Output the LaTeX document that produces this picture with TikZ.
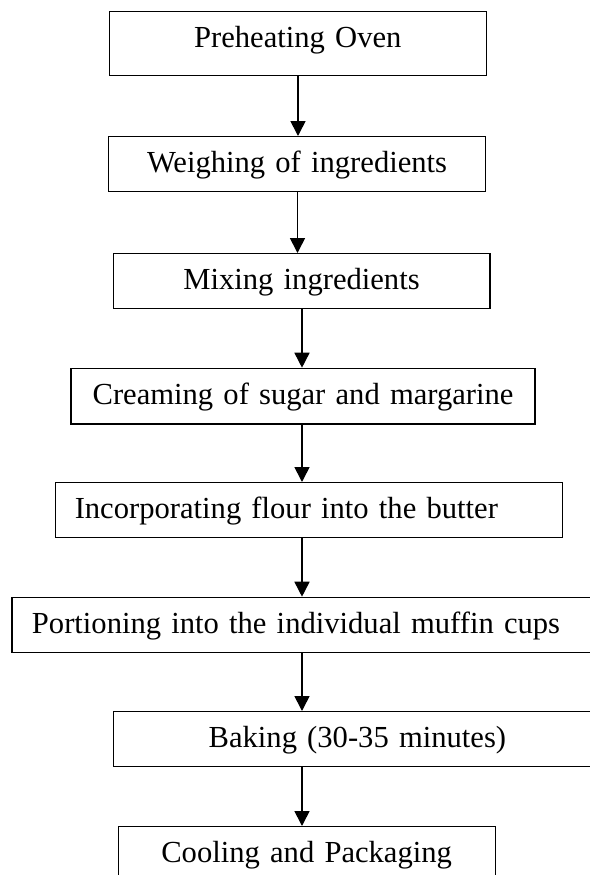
\documentclass[tikz,border=0pt]{standalone}
\usepackage{fontspec}
\setmainfont{Liberation Serif}
\usetikzlibrary{arrows.meta}
\begin{document}
\begin{tikzpicture}[x=0.5pt,y=-0.5pt,
  stepbox/.style={draw, line width=0.65pt, inner xsep=0pt, inner ysep=0pt,
    anchor=north west, font=\fontsize{15.3pt}{18pt}\selectfont,
    text height=18pt, text depth=9.5pt},
  arr/.style={-{Triangle[length=7.5pt,width=7.5pt]}, line width=0.8pt}]
\useasboundingbox (0,0) rectangle (590,875);
\clip (0,0) rectangle (590,875);
\node[stepbox, text width=188.35pt, align=center, text height=17.85pt, text depth=14.15pt] (b1) at (108.8,11) {Preheating Oven};
\node[stepbox, text width=188.4pt, align=center] (b2) at (108,136) {Weighing of ingredients};
\node[stepbox, text width=188.4pt, align=center] (b3) at (112.5,253) {Mixing ingredients};
\node[stepbox, text width=232pt, align=center, text depth=9.8pt] (b4) at (70.4,367.7) {Creaming of sugar and margarine};
\node[stepbox, text width=253.45pt, align=left] (b5) at (54.6,482) {\hspace*{9.75pt}Incorporating flour into the butter};
\node[stepbox, text width=294.35pt, align=left] (b6) at (11.3,596.7) {\hspace*{10pt}Portioning into the individual muffin cups};
\node[stepbox, text width=243.75pt, align=left] (b7) at (112.5,711) {\hspace*{47.75pt}Baking (30-35 minutes)};
\node[stepbox, text width=188.5pt, align=center, text depth=12pt] (b8) at (117.5,826) {Cooling and Packaging};
\coordinate (xa) at (298,0);
\coordinate (xb) at (297.5,0);
\coordinate (xc) at (302,0);
\draw[arr] (b1.south -| xa) -- (b2.north -| xa);
\draw[arr] (b2.south -| xb) -- (b3.north -| xb);
\draw[arr] (b3.south -| xc) -- (b4.north -| xc);
\draw[arr] (b4.south -| xc) -- (b5.north -| xc);
\draw[arr] (b5.south -| xc) -- (b6.north -| xc);
\draw[arr] (b6.south -| xc) -- (b7.north -| xc);
\draw[arr] (b7.south -| xc) -- (b8.north -| xc);
\end{tikzpicture}
\end{document}
